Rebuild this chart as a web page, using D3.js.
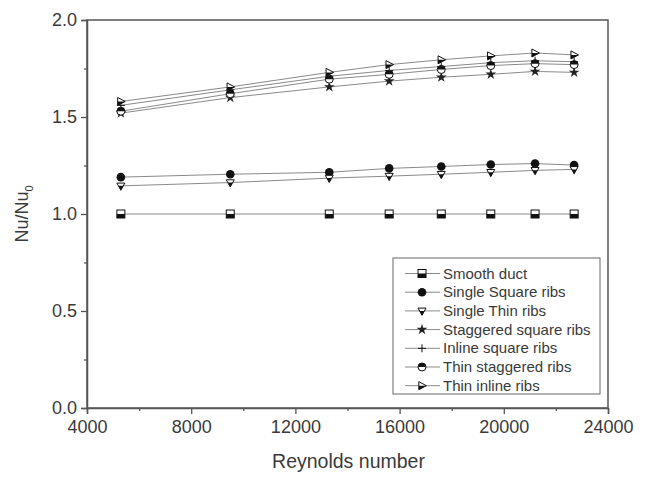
<!DOCTYPE html>
<html>
<head>
<meta charset="utf-8">
<script src="https://cdn.jsdelivr.net/npm/d3@7/dist/d3.min.js"></script>
<style>
  body { margin: 0; background: #fff; }
  svg { display: block; font-family: "Liberation Sans", Arial, sans-serif; }
</style>
</head>
<body>
<svg id="chart" width="647" height="483"></svg>
<script>
const reynolds = [5300, 9500, 13300, 15600, 17600, 19500, 21200, 22700];
const smoothDuct = [1.00, 1.00, 1.00, 1.00, 1.00, 1.00, 1.00, 1.00];
const singleSquare = [1.19, 1.205, 1.215, 1.235, 1.245, 1.255, 1.26, 1.252];
const singleThin = [1.145, 1.162, 1.185, 1.195, 1.205, 1.215, 1.225, 1.23];
const staggeredSquare = [1.52, 1.60, 1.655, 1.685, 1.705, 1.72, 1.735, 1.73];
const inlineSquare = [1.56, 1.64, 1.71, 1.74, 1.76, 1.78, 1.79, 1.785];
const thinStaggered = [1.53, 1.62, 1.695, 1.72, 1.745, 1.765, 1.775, 1.77];
const thinInline = [1.58, 1.655, 1.73, 1.77, 1.795, 1.815, 1.83, 1.82];
const seriesNames = ["Smooth duct", "Single Square ribs", "Single Thin ribs", "Staggered square ribs", "Inline square ribs", "Thin staggered ribs", "Thin inline ribs"];
const seriesMarkers = ["halfSquare", "circle", "halfDownTri", "star", "plus", "halfCircle", "halfRightTri"];
const xTicks = [4000, 8000, 12000, 16000, 20000, 24000];
const yTicks = [0.0, 0.5, 1.0, 1.5, 2.0];

const seriesValues = [smoothDuct, singleSquare, singleThin, staggeredSquare, inlineSquare, thinStaggered, thinInline];

const W = 647, H = 483;
const m = {left: 87, top: 20, right: 39, bottom: 75};
const svg = d3.select("#chart");
const x = d3.scaleLinear().domain([4000, 24000]).range([m.left, W - m.right]);
const y = d3.scaleLinear().domain([0, 2]).range([H - m.bottom, m.top]);

const axisColor = "#555";
const textColor = "#3a3a3a";

svg.append("rect").attr("x", m.left).attr("y", m.top)
  .attr("width", W - m.left - m.right).attr("height", H - m.top - m.bottom)
  .attr("fill", "none").attr("stroke", axisColor).attr("stroke-width", 1.5);

svg.append("g").attr("transform", `translate(0,${H - m.bottom})`)
  .call(d3.axisBottom(x).tickValues(xTicks).tickFormat(d3.format("d")).tickSize(6).tickPadding(6));
svg.append("g").attr("transform", `translate(0,${H - m.bottom})`)
  .call(d3.axisBottom(x).tickValues(d3.range(6000, 24000, 4000)).tickFormat("").tickSize(3))
  .select(".domain").remove();
svg.append("g").attr("transform", `translate(${m.left},0)`)
  .call(d3.axisLeft(y).tickValues(yTicks).tickFormat(d3.format(".1f")).tickSize(6).tickPadding(4));
svg.append("g").attr("transform", `translate(${m.left},0)`)
  .call(d3.axisLeft(y).tickValues([0.25, 0.75, 1.25, 1.75]).tickFormat("").tickSize(3))
  .select(".domain").remove();
svg.selectAll(".domain").attr("stroke", axisColor).attr("stroke-width", 1.5);
svg.selectAll(".tick line").attr("stroke", axisColor).attr("stroke-width", 1.3);
svg.selectAll(".tick text").attr("fill", textColor).style("font-size", "18px")
  .style("font-family", "'Liberation Sans', Arial, sans-serif");

svg.append("text").attr("x", (m.left + W - m.right) / 2 + 1).attr("y", 468)
  .attr("text-anchor", "middle").attr("fill", textColor).style("font-size", "19.5px")
  .text("Reynolds number");
const yl = svg.append("text").attr("transform", `translate(28,${(m.top + H - m.bottom) / 2}) rotate(-90)`)
  .attr("text-anchor", "middle").attr("fill", textColor).style("font-size", "18px");
yl.append("tspan").text("Nu/Nu");
yl.append("tspan").attr("dy", 5).style("font-size", "11px").text("0");

function drawMarker(g, type, cx, cy) {
  const r = 4;
  const s = g.append("g").attr("transform", `translate(${cx},${cy})`);
  if (type === "halfSquare") {
    s.append("rect").attr("x", -r).attr("y", -r).attr("width", 2 * r).attr("height", 2 * r)
      .attr("fill", "#fff").attr("stroke", "#111").attr("stroke-width", 1);
    s.append("rect").attr("x", -r).attr("y", 0).attr("width", 2 * r).attr("height", r).attr("fill", "#111");
  } else if (type === "circle") {
    s.append("circle").attr("r", r + 0.3).attr("fill", "#111");
  } else if (type === "halfCircle") {
    s.append("circle").attr("r", r).attr("fill", "#fff").attr("stroke", "#111").attr("stroke-width", 1);
    s.append("path").attr("d", `M${-r},0A${r},${r} 0 0 1 ${r},0Z`).attr("fill", "#111");
  } else if (type === "halfDownTri") {
    const t = -r * 0.7, b = r * 1.1;
    s.append("path").attr("d", `M${-r},${t}L${r},${t}L0,${b}Z`)
      .attr("fill", "#fff").attr("stroke", "#111").attr("stroke-width", 1);
    const hw = r * b / (b - t);
    s.append("path").attr("d", `M${-hw},0L${hw},0L0,${b}Z`).attr("fill", "#111");
  } else if (type === "halfRightTri") {
    s.append("path").attr("d", `M${-r * 0.8},${-r}L${-r * 0.8},${r}L${r * 1.1},0Z`)
      .attr("fill", "#fff").attr("stroke", "#111").attr("stroke-width", 1);
    s.append("path").attr("d", `M${-r * 0.8},0L${-r * 0.8},${r}L${r * 1.1},0Z`).attr("fill", "#111");
  } else if (type === "star") {
    s.append("path").attr("d", d3.symbol(d3.symbolStar, 36)()).attr("fill", "#222");
  } else if (type === "plus") {
    s.append("path").attr("d", `M${-r},0H${r}M0,${-r}V${r}`).attr("stroke", "#111").attr("stroke-width", 1);
  }
}

const line = d3.line().x((d, i) => x(reynolds[i])).y(d => y(d));
const plot = svg.append("g");
seriesValues.forEach((vals) => {
  plot.append("path").attr("d", line(vals)).attr("fill", "none")
    .attr("stroke", "#8a8a8a").attr("stroke-width", 1);
});
seriesValues.forEach((vals, k) => {
  vals.forEach((v, i) => drawMarker(plot, seriesMarkers[k], x(reynolds[i]), y(v)));
});

const lg = svg.append("g");
lg.append("rect").attr("x", 393).attr("y", 258).attr("width", 207).attr("height", 136)
  .attr("fill", "#fff").attr("stroke", "#666").attr("stroke-width", 1);
seriesNames.forEach((name, k) => {
  const yy = 273.5 + k * 18.7;
  lg.append("line").attr("x1", 405).attr("x2", 440).attr("y1", yy).attr("y2", yy)
    .attr("stroke", "#8a8a8a").attr("stroke-width", 1);
  drawMarker(lg, seriesMarkers[k], 422, yy);
  lg.append("text").attr("x", 443).attr("y", yy + 5).attr("fill", textColor)
    .style("font-size", "15px").text(name);
});
</script>
</body>
</html>
